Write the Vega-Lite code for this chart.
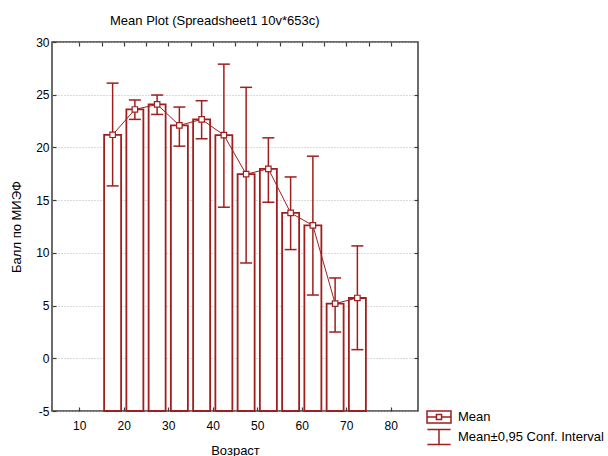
{
  "$schema": "https://vega.github.io/schema/vega-lite/v6.json",
  "autosize": "none",
  "width": 366,
  "height": 369,
  "padding": {"left": 52, "top": 42, "right": 190, "bottom": 45},
  "background": "white",
  "title": {"text": "Mean Plot (Spreadsheet1 10v*653c)", "anchor": "start", "frame": "group", "dx": 58, "offset": 8, "font": "Liberation Sans", "fontSize": 13, "fontWeight": "normal", "color": "black"},
  "config": {
    "view": {"stroke": "#3c3c3c", "strokeWidth": 1.5},
    "font": "Liberation Sans",
    "axis": {"labelFont": "Liberation Sans", "labelFontSize": 12, "labelColor": "black", "titleFont": "Liberation Sans", "titleFontSize": 13, "titleFontWeight": "normal", "titleColor": "black", "domain": false, "tickColor": "#3c3c3c", "tickWidth": 1.2}
  },
  "data": {"values": [
    {"age": 17.5, "mean": 21.2, "lo": 16.35, "hi": 26.1},
    {"age": 22.5, "mean": 23.6, "lo": 22.66, "hi": 24.5},
    {"age": 27.5, "mean": 24.08, "lo": 23.13, "hi": 24.97},
    {"age": 32.5, "mean": 22.09, "lo": 20.12, "hi": 23.83},
    {"age": 37.5, "mean": 22.66, "lo": 20.82, "hi": 24.43},
    {"age": 42.5, "mean": 21.17, "lo": 14.33, "hi": 27.9},
    {"age": 47.5, "mean": 17.46, "lo": 9.04, "hi": 25.7},
    {"age": 52.5, "mean": 17.97, "lo": 14.8, "hi": 20.91},
    {"age": 57.5, "mean": 13.79, "lo": 10.31, "hi": 17.2},
    {"age": 62.5, "mean": 12.6, "lo": 6.0, "hi": 19.17},
    {"age": 67.5, "mean": 5.19, "lo": 2.49, "hi": 7.62},
    {"age": 72.5, "mean": 5.72, "lo": 0.82, "hi": 10.66}
  ]},
  "resolve": {"axis": {"x": "independent", "y": "independent"}},
  "layer": [
    {
      "mark": {"type": "bar", "width": 17, "fill": "white", "stroke": "#A01E1E", "strokeWidth": 1.8},
      "encoding": {
        "x": {"field": "age", "type": "quantitative", "scale": {"domain": [5, 85], "nice": false, "zero": false},
              "axis": {"title": "Возраст", "values": [10, 20, 30, 40, 50, 60, 70, 80], "grid": false, "tickSize": -4, "labelPadding": 13, "titlePadding": 13}},
        "y": {"field": "mean", "type": "quantitative", "scale": {"domain": [-5, 30], "nice": false, "zero": false},
              "axis": {"title": "Балл по МИЭФ", "values": [-5, 0, 5, 10, 15, 20, 25, 30], "labelExpr": "replace(datum.label, '−', '-')", "grid": true, "gridColor": "#b4b4b4", "gridDash": [1, 2], "gridWidth": 1, "tickSize": -4, "labelPadding": 7, "titlePadding": 12}},
        "y2": {"datum": -5}
      }
    },
    {
      "mark": {"type": "rule", "color": "#A01E1E", "strokeWidth": 1.5},
      "encoding": {
        "x": {"field": "age", "type": "quantitative", "axis": null},
        "y": {"field": "lo", "type": "quantitative", "axis": null},
        "y2": {"field": "hi"}
      }
    },
    {
      "mark": {"type": "tick", "orient": "horizontal", "size": 12, "thickness": 1.5, "color": "#A01E1E", "opacity": 1},
      "encoding": {
        "x": {"field": "age", "type": "quantitative", "axis": null},
        "y": {"field": "lo", "type": "quantitative", "axis": null}
      }
    },
    {
      "mark": {"type": "tick", "orient": "horizontal", "size": 12, "thickness": 1.5, "color": "#A01E1E", "opacity": 1},
      "encoding": {
        "x": {"field": "age", "type": "quantitative", "axis": null},
        "y": {"field": "hi", "type": "quantitative", "axis": null}
      }
    },
    {
      "mark": {"type": "line", "color": "#A01E1E", "strokeWidth": 1},
      "encoding": {
        "x": {"field": "age", "type": "quantitative",
              "axis": {"orient": "top", "title": null, "labels": false, "grid": false, "values": [10, 15, 20, 25, 30, 35, 40, 45, 50, 55, 60, 65, 70, 75, 80], "tickSize": -4}},
        "y": {"field": "mean", "type": "quantitative",
              "axis": {"orient": "right", "title": null, "labels": false, "grid": false, "values": [0, 5, 10, 15, 20, 25], "tickSize": -4}}
      }
    },
    {
      "mark": {"type": "point", "shape": "square", "filled": true, "fill": "white", "stroke": "#A01E1E", "strokeWidth": 1.2, "size": 30, "opacity": 1},
      "encoding": {
        "x": {"field": "age", "type": "quantitative", "axis": null},
        "y": {"field": "mean", "type": "quantitative", "axis": null}
      }
    },
    {
      "data": {"values": [{"series": "Mean"}, {"series": "Mean±0,95 Conf. Interval"}]},
      "mark": {"type": "point", "opacity": 0, "filled": false},
      "encoding": {
        "shape": {"field": "series", "type": "nominal",
          "scale": {"domain": ["Mean", "Mean±0,95 Conf. Interval"],
                    "range": ["M-1.5,-0.75H1.5V0.75H-1.5Z M-1.5,0H-0.32 M0.32,0H1.5 M-0.32,-0.3H0.32V0.3H-0.32Z", "M-1.45,-0.95H1.45 M0,-0.95V0.95 M-1.45,0.95H1.45"]},
          "legend": {"orient": "none", "legendX": 378, "legendY": 366, "title": null, "symbolSize": 256, "symbolFillColor": "white", "symbolStrokeColor": "#A01E1E", "symbolStrokeWidth": 1.5, "symbolOpacity": 1, "labelFont": "Liberation Sans", "labelFontSize": 13, "labelColor": "black", "labelOffset": 10, "rowPadding": 0, "padding": 0, "labelLimit": 300}
        }
      }
    }
  ]
}
